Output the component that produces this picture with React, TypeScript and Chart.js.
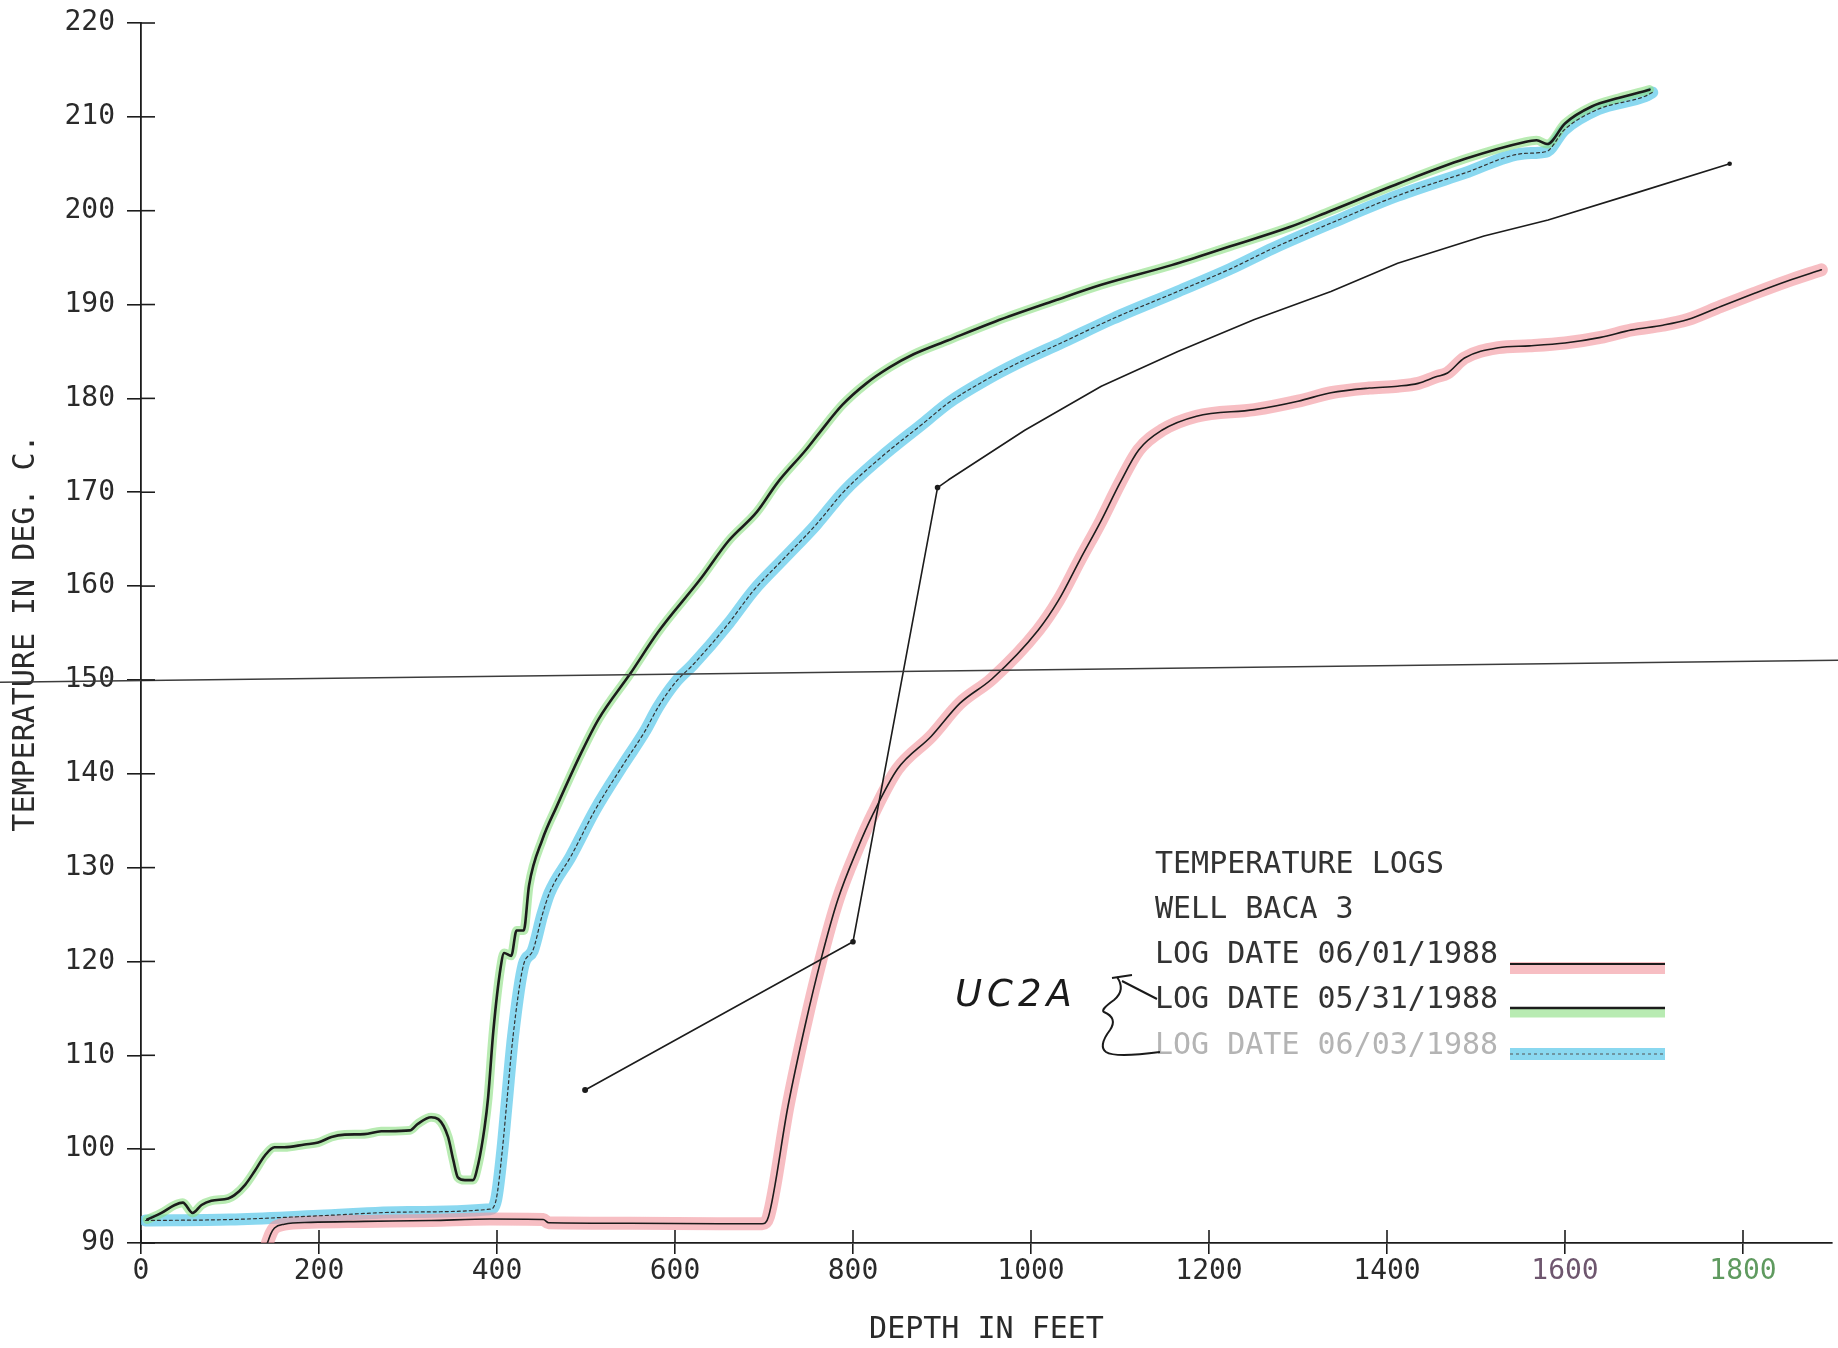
import React, { useEffect, useRef } from "react";
import { Chart, registerables } from "chart.js";

Chart.register(...registerables);

// ---- axis ticks ----
const depthTicks = [0, 200, 400, 600, 800, 1000, 1200, 1400, 1600, 1800];
const tempTicks = [90, 100, 110, 120, 130, 140, 150, 160, 170, 180, 190, 200, 210, 220];

// ---- LOG DATE 05/31/1988 (green highlight) ----
const log0531Depth = [7, 23, 38, 47, 58, 68, 79, 98, 105, 117, 128, 139, 150, 161, 184, 199, 214, 229, 251, 270, 302, 311, 326, 334, 345, 351, 356, 364, 373, 379, 386, 390, 396, 404, 408, 416, 422, 430, 436, 451, 467, 495, 514, 550, 581, 629, 660, 692, 715, 747, 762, 788, 815, 841, 868, 907, 960, 1026, 1079, 1158, 1224, 1289, 1337, 1413, 1487, 1554, 1568, 1580, 1600, 1630, 1660, 1695];
const log0531Temp = [92.5, 93.2, 94.05, 94.3, 93.2, 94.05, 94.5, 94.75, 95.1, 96.2, 97.7, 99.3, 100.2, 100.2, 100.5, 100.7, 101.3, 101.55, 101.6, 101.9, 102, 102.7, 103.4, 103.2, 101.3, 98.8, 97, 96.7, 96.7, 98.45, 102.3, 105.5, 112.7, 119.3, 120.9, 120.6, 123.3, 123.3, 128.1, 133, 136.5, 142.3, 145.8, 150.7, 155.1, 160.8, 164.8, 167.9, 171, 174.5, 176.3, 179.3, 181.6, 183.3, 184.7, 186.2, 188.2, 190.4, 192.1, 194.2, 196.2, 198.2, 200.0, 202.9, 205.5, 207.3, 207.5, 207.1, 209.3, 211.1, 212.0, 212.9];

// ---- LOG DATE 06/03/1988 (cyan highlight) ----
const log0603Depth = [5, 100, 200, 300, 392, 399, 406, 411, 418, 430, 440, 451, 459, 483, 510, 542, 566, 581, 601, 620, 660, 688, 723, 759, 790, 830, 881, 907, 950, 986, 1036, 1092, 1165, 1224, 1272, 1340, 1412, 1487, 1554, 1579, 1599, 1637, 1690, 1698];
const log0603Temp = [92.4, 92.5, 92.9, 93.3, 93.6, 94.6, 99.9, 105, 112, 119.7, 121.1, 125, 127.3, 131.2, 136.1, 141, 144.5, 147.1, 149.8, 151.6, 156, 159.5, 163, 166.6, 170.1, 173.6, 177.5, 179.5, 182, 183.8, 186.0, 188.5, 191.4, 193.8, 196.0, 198.8, 201.6, 204, 206.1, 206.3, 208.6, 210.8, 212.2, 212.6];

// ---- LOG DATE 06/01/1988 (red highlight) ----
const log0601Depth = [142, 146, 150, 161, 191, 251, 326, 392, 452, 458, 550, 650, 698, 705, 727, 746, 764, 783, 805, 823, 850, 888, 920, 956, 1008, 1031, 1055, 1079, 1100, 1121, 1147, 1186, 1251, 1300, 1337, 1380, 1412, 1435, 1455, 1468, 1487, 1525, 1560, 1600, 1640, 1675, 1710, 1738, 1775, 1813, 1850, 1888];
const log0601Temp = [90, 91.0, 91.6, 92.0, 92.2, 92.3, 92.4, 92.55, 92.5, 92.15, 92.1, 92.05, 92.05, 92.8, 104.6, 113.1, 120.2, 126.6, 132, 135.8, 140.5, 144, 147.5, 150.1, 155.3, 158.5, 162.8, 167, 171, 174.5, 176.6, 178.1, 178.8, 179.7, 180.6, 181.1, 181.3, 181.6, 182.3, 182.7, 184.3, 185.4, 185.6, 185.9, 186.5, 187.3, 187.8, 188.4, 189.8, 191.2, 192.5, 193.7];

// ---- hand-drawn UC2A line ----
const uc2aDepth = [499, 800, 895, 907, 993, 1079, 1165, 1251, 1337, 1412, 1509, 1581, 1680, 1785];
const uc2aTemp = [106.3, 122.1, 170.5, 171.3, 176.6, 181.3, 185, 188.4, 191.4, 194.4, 197.3, 199, 201.9, 205];

// ---- hand-ruled line near 150 ----
const ruledDepth = [-160, 1910];
const ruledTemp = [149.75, 152.1];

// ---- legend text ----
const legendTitle = ["TEMPERATURE LOGS", "WELL BACA 3"];
const legendEntries = ["LOG DATE 06/01/1988", "LOG DATE 05/31/1988", "LOG DATE 06/03/1988"];

const pts = (xs: number[], ys: number[]) => xs.map((x, i) => ({ x, y: ys[i] }));

const MONO = "'DejaVu Sans Mono', monospace";
const INK = "#1c1c1c";
const RED_BAND = "rgba(242,150,158,0.62)";
const GREEN_BAND = "rgba(140,222,130,0.62)";
const CYAN_BAND = "rgba(105,205,236,0.78)";

const crossTicks = {
  id: "crossTicks",
  afterDatasetsDraw(chart: any) {
    const { ctx, chartArea, scales } = chart;
    ctx.save();
    ctx.strokeStyle = INK;
    ctx.lineWidth = 1.6;
    scales.y.ticks.forEach((_t: any, i: number) => {
      const py = scales.y.getPixelForTick(i);
      ctx.beginPath();
      ctx.moveTo(chartArea.left, py);
      ctx.lineTo(chartArea.left + 14, py);
      ctx.stroke();
    });
    scales.x.ticks.forEach((_t: any, i: number) => {
      const px = scales.x.getPixelForTick(i);
      ctx.beginPath();
      ctx.moveTo(px, chartArea.bottom);
      ctx.lineTo(px, chartArea.bottom - 13);
      ctx.stroke();
    });
    ctx.restore();
  },
};

const annotations = {
  id: "annotations",
  afterDraw(chart: any) {
    const { ctx } = chart;
    ctx.save();
    ctx.font = `30px ${MONO}`;
    ctx.textBaseline = "middle";
    ctx.textAlign = "left";
    const tx = 1155;
    const rows = [865, 910, 955, 1000, 1046];
    ctx.fillStyle = "#333";
    ctx.fillText(legendTitle[0], tx, rows[0]);
    ctx.fillText(legendTitle[1], tx, rows[1]);
    ctx.fillText(legendEntries[0], tx, rows[2]);
    ctx.fillText(legendEntries[1], tx, rows[3]);
    ctx.fillStyle = "#b4b4b4";
    ctx.fillText(legendEntries[2], tx, rows[4]);

    const x0 = 1510, x1 = 1665;
    const seg = (y: number, color: string, w: number, dash: number[] = []) => {
      ctx.beginPath();
      ctx.setLineDash(dash);
      ctx.strokeStyle = color;
      ctx.lineWidth = w;
      ctx.moveTo(x0, y);
      ctx.lineTo(x1, y);
      ctx.stroke();
      ctx.setLineDash([]);
    };
    seg(968, RED_BAND, 12);
    seg(964, INK, 1.8);
    seg(1013, GREEN_BAND, 9);
    seg(1008, INK, 2.4);
    seg(1054, CYAN_BAND, 12);
    seg(1054, "#555", 1, [3, 3]);

    // handwritten note
    ctx.fillStyle = "#1a1a1a";
    ctx.font = "italic 200 37px 'DejaVu Sans', sans-serif";
    (ctx as any).letterSpacing = "5px";
    ctx.fillText("UC2A", 955, 996);
    (ctx as any).letterSpacing = "0px";

    // brace
    ctx.strokeStyle = "#1a1a1a";
    ctx.lineWidth = 2;
    ctx.beginPath();
    ctx.moveTo(1117, 977);
    ctx.quadraticCurveTo(1126, 990, 1114, 1000);
    ctx.quadraticCurveTo(1100, 1010, 1104, 1012);
    ctx.quadraticCurveTo(1118, 1018, 1110, 1030);
    ctx.quadraticCurveTo(1098, 1046, 1106, 1052);
    ctx.quadraticCurveTo(1115, 1058, 1160, 1052);
    ctx.stroke();
    ctx.beginPath();
    ctx.moveTo(1112, 978);
    ctx.lineTo(1132, 975);
    ctx.moveTo(1122, 981);
    ctx.lineTo(1157, 999);
    ctx.stroke();
    ctx.restore();
  },
};

export default function App() {
  const ref = useRef<HTMLCanvasElement>(null);

  useEffect(() => {
    if (!ref.current) return;
    const line = (label: string, xs: number[], ys: number[], color: string, width: number, order: number, extra: any = {}) => ({
      label,
      data: pts(xs, ys),
      borderColor: color,
      borderWidth: width,
      pointRadius: 0,
      fill: false,
      cubicInterpolationMode: "monotone",
      borderCapStyle: "round",
      borderJoinStyle: "round",
      order,
      ...extra,
    });

    const chart = new Chart(ref.current, {
      type: "line",
      data: {
        datasets: [
          line("ruled 150", ruledDepth, ruledTemp, "#3c3c3c", 1.4, 0, { clip: false, cubicInterpolationMode: "default", tension: 0 }),
          line("UC2A", uc2aDepth, uc2aTemp, INK, 1.6, 0, {
            cubicInterpolationMode: "default",
            tension: 0,
            pointRadius: [2.2, 2, 2, 0, 0, 0, 0, 0, 0, 0, 0, 0, 0, 1.5],
            pointBackgroundColor: INK,
            pointBorderColor: INK,
          }),
          line("LOG DATE 05/31/1988", log0531Depth, log0531Temp, INK, 2.6, 1),
          line("LOG DATE 06/01/1988", log0601Depth, log0601Temp, INK, 1.6, 1),
          line("LOG DATE 06/03/1988", log0603Depth, log0603Temp, "#333", 1.2, 1, { borderDash: [3, 3] }),
          line("05/31 band", log0531Depth, log0531Temp, GREEN_BAND, 9, 5),
          line("06/01 band", log0601Depth, log0601Temp, RED_BAND, 13, 5),
          line("06/03 band", log0603Depth, log0603Temp, CYAN_BAND, 12, 5),
        ],
      },
      options: {
        responsive: false,
        animation: false,
        events: [],
        layout: { autoPadding: false, padding: { top: 23, right: 6, left: 0, bottom: 0 } },
        plugins: { legend: { display: false }, tooltip: { enabled: false } },
        scales: {
          x: {
            type: "linear",
            min: 0,
            max: 1900,
            afterBuildTicks: (s: any) => {
              s.ticks = depthTicks.map((v) => ({ value: v }));
            },
            afterFit: (s: any) => {
              s.height = 105;
              s.paddingLeft = 0;
              s.paddingRight = 0;
            },
            grid: { drawOnChartArea: false, drawTicks: true, tickLength: 11, color: INK, lineWidth: 1.6 },
            border: { display: true, color: INK, width: 1.8 },
            ticks: {
              padding: 1,
              font: { family: MONO, size: 28 },
              color: (c: any) => (c.tick && c.tick.value === 1800 ? "#5f9a5f" : c.tick && c.tick.value === 1600 ? "#6e566e" : "#2a2a2a"),
              maxRotation: 0,
              autoSkip: false,
              callback: (v: any) => String(v),
            },
            title: {
              display: true,
              text: "DEPTH IN FEET",
              font: { family: MONO, size: 30 },
              color: "#2a2a2a",
              padding: { top: 0, bottom: 0 },
            },
          },
          y: {
            type: "linear",
            min: 90,
            max: 220,
            afterBuildTicks: (s: any) => {
              s.ticks = tempTicks.map((v) => ({ value: v }));
            },
            afterFit: (s: any) => {
              s.width = 141;
              s.paddingTop = 0;
              s.paddingBottom = 0;
            },
            grid: { drawOnChartArea: false, drawTicks: true, tickLength: 14, color: INK, lineWidth: 1.6 },
            border: { display: true, color: INK, width: 1.8 },
            ticks: {
              padding: 12,
              font: { family: MONO, size: 28 },
              color: "#2a2a2a",
              autoSkip: false,
              callback: (v: any) => String(v),
            },
            title: {
              display: true,
              text: "TEMPERATURE IN DEG. C.",
              font: { family: MONO, size: 30 },
              color: "#2a2a2a",
              padding: { top: 8, bottom: 0 },
            },
          },
        },
      },
      plugins: [crossTicks, annotations],
    } as any);

    return () => chart.destroy();
  }, []);

  return (
    <div style={{ position: "absolute", left: 0, top: 0, width: 1838, height: 1348, background: "#ffffff" }}>
      <canvas ref={ref} width={1838} height={1348} style={{ display: "block" }} />
    </div>
  );
}
